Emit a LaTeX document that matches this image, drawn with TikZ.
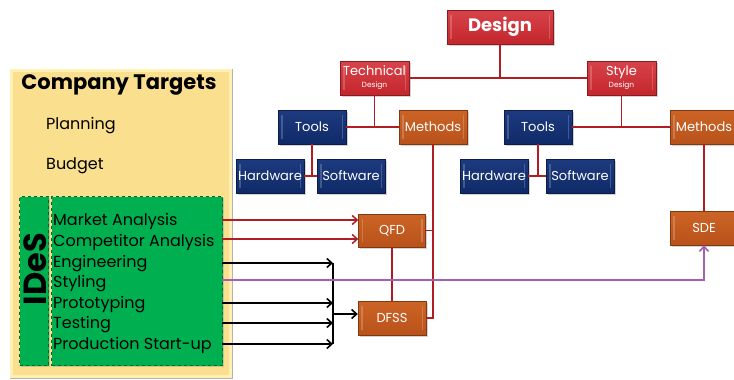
\documentclass[tikz,border=0pt]{standalone}
\usepackage{fontspec}
\setmainfont{Poppins}
\usetikzlibrary{shadows,arrows.meta}
\definecolor{boxred}{HTML}{C3262C}
\definecolor{boxredtop}{HTML}{D8434A}
\definecolor{boxblue}{HTML}{0F2A68}
\definecolor{boxbluetop}{HTML}{1D3B80}
\definecolor{boxorange}{HTML}{B9521A}
\definecolor{boxorangetop}{HTML}{CC6426}
\definecolor{linered}{HTML}{B01E23}
\definecolor{linepurple}{HTML}{A45FB3}
\definecolor{panelyellow}{HTML}{FADF8E}
\definecolor{panelrim}{HTML}{FFF0B4}
\definecolor{idesgreen}{HTML}{00B050}
\begin{document}
\begin{tikzpicture}[x=1pt,y=-1pt,
  box/.style={rectangle, minimum width=68pt, minimum height=34pt, inner sep=0pt,
    text=white, font=\fontsize{13}{14}\selectfont,
    drop shadow={shadow xshift=1.5pt, shadow yshift=-1.5pt, opacity=0.35},
    path picture={
      \fill[white,opacity=0.2] ([xshift=3pt,yshift=-5pt]path picture bounding box.north west)
        rectangle ([xshift=4.5pt,yshift=5pt]path picture bounding box.south west);
      \fill[white,opacity=0.2] ([xshift=-3pt,yshift=-5pt]path picture bounding box.north east)
        rectangle ([xshift=-4.5pt,yshift=5pt]path picture bounding box.south east);}},
  redbox/.style={box, top color=boxredtop, bottom color=boxred, draw=boxred!70!black, line width=0.4pt},
  bluebox/.style={box, top color=boxbluetop, bottom color=boxblue, draw=boxblue!70!black, line width=0.4pt},
  orangebox/.style={box, top color=boxorangetop, bottom color=boxorange, draw=boxorange!70!black, line width=0.4pt},
  tree/.style={draw=linered, line width=1.3pt},
  redarrow/.style={draw=linered, line width=1.5pt, -{Straight Barb[length=5pt,width=9pt]}},
  blackarrow/.style={draw=black, line width=1.6pt, -{Straight Barb[length=5pt,width=9pt]}},
  purplearrow/.style={draw=linepurple, line width=1.6pt, -{Straight Barb[length=5pt,width=9pt]}},
  item/.style={anchor=base west, inner sep=0pt, font=\fontsize{16}{17}\selectfont, text=black},
  greenbox/.style={fill=idesgreen, draw=black!40!idesgreen, dashed, line width=1pt,
    drop shadow={shadow xshift=1pt, shadow yshift=-1pt, opacity=0.3}}
]
\useasboundingbox (0,0) rectangle (734,380);
\fill[white] (0,0) rectangle (734,380);

% left panel
\node[draw=black!30, fill=panelyellow, line width=0.5pt, minimum width=222pt, minimum height=309pt, anchor=north west, inner sep=0pt] (panel) at (10,69) {};
\draw[panelrim, line width=3pt] (11.8,70.8) rectangle (230.2,376.2);
\node[font=\bfseries\fontsize{21}{22}\selectfont] (ct) at (119,85) {Company Targets};
\node[item] (plan) at (46,129) {Planning};
\node[item] (budg) at (46,169) {Budget};

\node[greenbox, minimum width=29pt, minimum height=169pt, anchor=north west, inner sep=0pt] (greenL) at (19,196) {};
\node[greenbox, minimum width=171pt, minimum height=169pt, anchor=north west, inner sep=0pt] (greenR) at (51,196) {};
\node[rotate=90, font=\bfseries\fontsize{32}{32}\selectfont] (ides) at (35,269) {IDeS};

\node[item] (ma)  at (53,225) {Market Analysis};
\node[item] (ca)  at (53,246) {Competitor Analysis};
\node[item] (eng) at (53,267) {Engineering};
\node[item] (sty) at (53,287) {Styling};
\node[item] (pro) at (53,308) {Prototyping};
\node[item] (tes) at (53,328) {Testing};
\node[item] (psu) at (53,349) {Production Start-up};

% connector rows (levels of the IDeS items)
\coordinate (rma)  at (222,220);
\coordinate (rca)  at (222,239);
\coordinate (reng) at (222,263);
\coordinate (rsty) at (222,280);
\coordinate (rpro) at (222,303);
\coordinate (rtes) at (222,323);
\coordinate (rpsu) at (222,344);

% tree boxes
\node[redbox, minimum width=106pt, font=\bfseries\fontsize{18}{19}\selectfont] (design) at (500,27) {Design};
\node[redbox, minimum width=69pt, align=center] (tech) at (374.5,78) {Technical\\[-2pt]{\fontsize{7.5}{8}\selectfont Design}};
\node[redbox, minimum width=69pt, align=center] (style) at (621.5,78) {Style\\[-2pt]{\fontsize{7.5}{8}\selectfont Design}};

\node[bluebox] (toolsL) at (312,127) {Tools};
\node[orangebox] (methL) at (433,127) {Methods};
\node[bluebox] (hwL) at (270,176) {Hardware};
\node[bluebox] (swL) at (351,176) {Software};

\node[bluebox] (toolsR) at (538,127) {Tools};
\node[orangebox] (methR) at (704,127) {Methods};
\node[bluebox] (hwR) at (494,176) {Hardware};
\node[bluebox] (swR) at (580,176) {Software};

\node[orangebox, minimum width=67pt, minimum height=33pt] (qfd) at (392,230.5) {QFD};
\node[orangebox] (dfss) at (392,318) {DFSS};
\node[orangebox] (sde) at (704,228) {SDE};

% tree connectors
\draw[tree] (design.south) -- (design.south |- tech.east);
\draw[tree] (tech.east) -- (style.west);
\draw[tree] (tech.south) -- (tech.south |- toolsL.east);
\draw[tree] (toolsL.east) -- (methL.west);
\draw[tree] (toolsL.south) -- (toolsL.south |- hwL.east);
\draw[tree] (hwL.east) -- (swL.west);
\draw[tree] (style.south) -- (style.south |- toolsR.east);
\draw[tree] (toolsR.east) -- (methR.west);
\draw[tree] (toolsR.south) -- (toolsR.south |- hwR.east);
\draw[tree] (hwR.east) -- (swR.west);
\draw[tree] (methR.south) -- (sde.north);
\draw[tree] (methL.south) -- (methL.south |- dfss.east) -- (dfss.east);
\draw[tree] (qfd.east) -- (qfd.east -| methL.south);
\draw[tree] (qfd.south) -- (dfss.north);

% arrows from IDeS
\coordinate (busT) at (333,263);
\coordinate (busB) at (333,344);
\draw[redarrow] (rma) -- (qfd.west |- rma);
\draw[redarrow] (rca) -- (qfd.west |- rca);
\draw[blackarrow] (reng) -- (busT |- reng);
\draw[blackarrow] (rpro) -- (busT |- rpro);
\draw[blackarrow] (rtes) -- (busT |- rtes);
\draw[blackarrow] (rpsu) -- (busT |- rpsu);
\draw[black, line width=1.6pt] (busT) -- (busB);
\draw[blackarrow] (busT |- dfss.west) ++(0,-4) -- ([yshift=4pt]dfss.west);
\draw[purplearrow] (rsty) -| (sde.south);
\end{tikzpicture}
\end{document}
